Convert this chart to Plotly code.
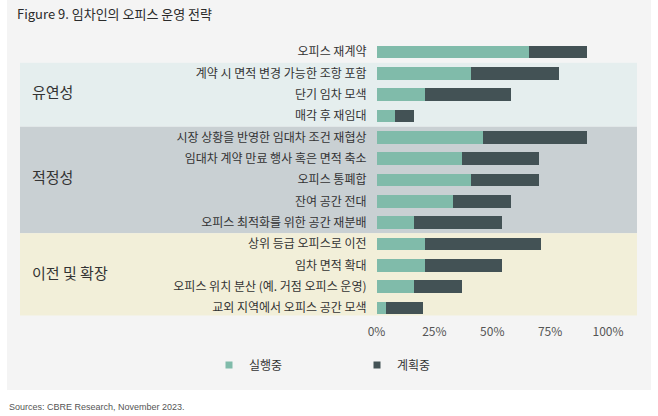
import plotly.graph_objects as go

W, H = 658, 416

categories = [
    "오피스 재계약",
    "계약 시 면적 변경 가능한 조항 포함",
    "단기 임차 모색",
    "매각 후 재임대",
    "시장 상황을 반영한 임대차 조건 재협상",
    "임대차 계약 만료 행사 혹은 면적 축소",
    "오피스 통폐합",
    "잔여 공간 전대",
    "오피스 최적화를 위한 공간 재분배",
    "상위 등급 오피스로 이전",
    "임차 면적 확대",
    "오피스 위치 분산 (예. 거점 오피스 운영)",
    "교외 지역에서 오피스 공간 모색",
]
in_progress = [66, 41, 21, 8, 46, 37, 41, 33, 16, 21, 21, 16, 4]
planned = [25, 38, 37, 8, 45, 33, 29, 25, 38, 50, 33, 21, 16]

groups = ["유연성", "적정성", "이전 및 확장"]
group_rows = [(1, 3), (4, 8), (9, 12)]  # first/last category index of each group
group_colors = ["#e5eeee", "#c9d0d3", "#f2efd9"]

series_names = ["실행중", "계획중"]
series_colors = ["#80bbaa", "#435255"]
x_ticks = [0, 25, 50, 75, 100]
x_ticklabels = ["0%", "25%", "50%", "75%", "100%"]

FONT = "Noto Sans CJK KR"

fig = go.Figure()
for name, vals, col in zip(series_names, [in_progress, planned], series_colors):
    fig.add_trace(go.Bar(
        y=categories, x=vals, orientation="h", name=name,
        marker=dict(color=col, line=dict(width=0)), width=0.6,
        showlegend=False, hoverinfo="x+y",
    ))
# legend entries (small square markers)
for name, col in zip(series_names, series_colors):
    fig.add_trace(go.Scatter(
        x=[None], y=[None], mode="markers", name=name,
        marker=dict(symbol="square", size=7, color=col),
        showlegend=True,
    ))

px = lambda v: v / W
py = lambda v: 1 - v / H

shapes = [
    # outer panel
    dict(type="rect", xref="paper", yref="paper", x0=px(7), x1=px(651),
         y0=py(390), y1=1, fillcolor="#f4f4f4", line=dict(width=0), layer="below"),
]
annotations = []
for g, (a, b), c in zip(groups, group_rows, group_colors):
    y1 = b + 0.5 if b < len(categories) - 1 else b + 0.35
    shapes.append(dict(type="rect", xref="paper", yref="y", x0=px(20), x1=px(637),
                       y0=a - 0.5, y1=y1, fillcolor=c, line=dict(width=0), layer="below"))
    annotations.append(dict(text=g, xref="paper", yref="y", x=px(30), y=(a + b) / 2 - 0.15,
                            xanchor="left", yanchor="middle", showarrow=False,
                            font=dict(family=FONT, size=15, color="#333333")))

annotations.append(dict(text="Figure 9. 임차인의 오피스 운영 전략", xref="paper", yref="paper",
                        x=px(15), y=py(13), xanchor="left", yanchor="middle", showarrow=False,
                        font=dict(family=FONT, size=13, color="#2b2b2b")))
annotations.append(dict(text="Sources: CBRE Research, November 2023.", xref="paper", yref="paper",
                        x=px(7), y=py(407), xanchor="left", yanchor="middle", showarrow=False,
                        font=dict(family="Liberation Sans", size=9, color="#555555")))

fig.update_layout(
    width=W, height=H,
    margin=dict(l=0, r=0, t=0, b=0, autoexpand=False),
    paper_bgcolor="white", plot_bgcolor="rgba(0,0,0,0)",
    barmode="stack",
    bargap=0.4,
    shapes=shapes, annotations=annotations,
    showlegend=True,
    legend=dict(orientation="h", x=px(209), y=py(365), xanchor="left", yanchor="middle",
                traceorder="normal",
                bgcolor="rgba(0,0,0,0)", font=dict(family=FONT, size=12, color="#333333"),
                entrywidth=103, entrywidthmode="pixels", itemwidth=30),
    xaxis=dict(domain=[px(376.5), px(608)], range=[0, 100], tickvals=x_ticks, ticktext=x_ticklabels,
               showgrid=False, zeroline=False, showline=False, ticks="",
               tickfont=dict(family=FONT, size=12, color="#555555"), ticklabelstandoff=4,
               fixedrange=True),
    yaxis=dict(domain=[py(318.67), py(41.33)], range=[len(categories) - 0.5, -0.5],
               type="category", categoryorder="array", categoryarray=categories,
               showgrid=False, zeroline=False, showline=False, ticks="",
               tickfont=dict(family=FONT, size=12, color="#333333"), ticklabelstandoff=9,
               fixedrange=True),
    font=dict(family=FONT),
)

# remove the default 8px page margin so the 658x416 figure fills the window exactly
fig.write_html("out.html", config={"displayModeBar": False},
               post_script="document.body.style.margin='0';document.body.style.overflow='hidden';")
